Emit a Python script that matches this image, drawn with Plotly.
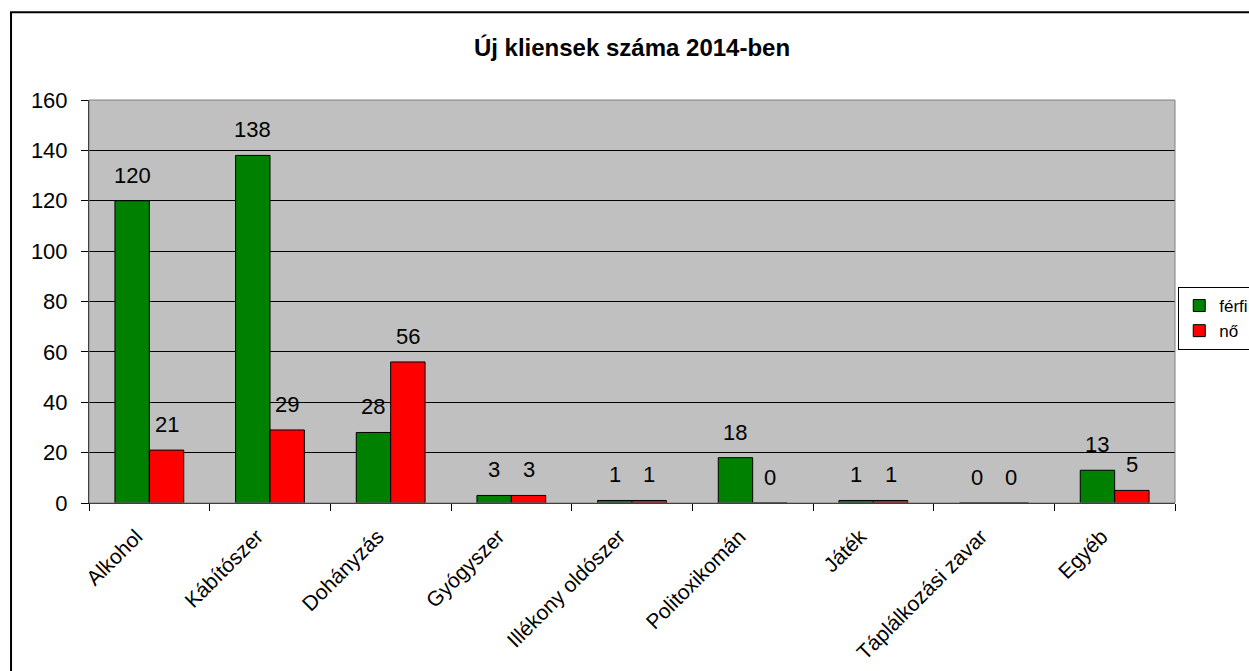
import plotly.graph_objects as go

categories = ["Alkohol", "Kábítószer", "Dohányzás", "Gyógyszer", "Illékony oldószer",
              "Politoxikomán", "Játék", "Táplálkozási zavar", "Egyéb"]
ferfi = [120, 138, 28, 3, 1, 18, 1, 0, 13]
no = [21, 29, 56, 3, 1, 0, 1, 0, 5]
y_ticks = [0, 20, 40, 60, 80, 100, 120, 140, 160]

FONT = "Liberation Sans, Arial, sans-serif"
BARGAP = 0.43
PLOT_W = 1086
bar_px = PLOT_W / len(categories) * (1 - BARGAP) / 2

fig = go.Figure()
fig.add_trace(go.Bar(x=categories, y=ferfi, name="férfi",
                     marker=dict(color="#008000", line=dict(color="black", width=1))))
fig.add_trace(go.Bar(x=categories, y=no, name="nő",
                     marker=dict(color="#FF0000", line=dict(color="black", width=1))))

annotations = []
for series, sign in ((ferfi, -1), (no, 1)):
    for cat, val in zip(categories, series):
        annotations.append(dict(x=cat, y=val, xref="x", yref="y", text=str(val),
                                showarrow=False, xanchor="center", yanchor="bottom",
                                xshift=sign * bar_px / 2, yshift=11,
                                font=dict(family=FONT, size=22, color="black")))

fig.update_layout(
    width=1249, height=671,
    margin=dict(l=89, r=74, t=100, b=168, autoexpand=False),
    paper_bgcolor="white", plot_bgcolor="#C0C0C0",
    font=dict(family=FONT, size=20, color="black"),
    title=dict(text="<b>Új kliensek száma 2014-ben</b>", x=0.5, xref="paper",
               y=1 - 48 / 671, yref="container", yanchor="middle",
               font=dict(family=FONT, size=24, color="black")),
    barmode="group", bargap=BARGAP, bargroupgap=0,
    showlegend=True,
    legend=dict(x=1.003, y=0.536, xanchor="left", yanchor="top",
                bordercolor="black", borderwidth=1, bgcolor="white",
                font=dict(family=FONT, size=17, color="black"),
                itemwidth=30, tracegroupgap=0),
    xaxis=dict(showline=True, linecolor="black", linewidth=1,
               ticks="outside", tickson="boundaries", ticklen=7, tickcolor="black",
               tickangle=-45, tickfont=dict(family=FONT, size=21),
               ticklabelstandoff=12, ticklabelshift=-13),
    yaxis=dict(range=[0, 160], tickvals=y_ticks, showline=True, linecolor="black",
               linewidth=1, ticks="outside", ticklen=7, tickcolor="black",
               showgrid=True, gridcolor="black", gridwidth=1, zeroline=False,
               tickfont=dict(family=FONT, size=22), ticklabelstandoff=9),
    annotations=annotations,
    shapes=[
        dict(type="rect", xref="paper", yref="paper", x0=0, x1=1, y0=0, y1=1,
             line=dict(color="#808080", width=1), fillcolor="rgba(0,0,0,0)", layer="above"),
        dict(type="rect", xref="paper", yref="paper", x0=-0.0718, x1=1.2, y0=-0.6, y1=1.218,
             line=dict(color="black", width=2), fillcolor="rgba(0,0,0,0)", layer="above"),
    ],
)
fig.write_html("out.html", config={"displayModeBar": False},
               post_script="document.body.style.margin='0';document.body.style.overflow='hidden';")
